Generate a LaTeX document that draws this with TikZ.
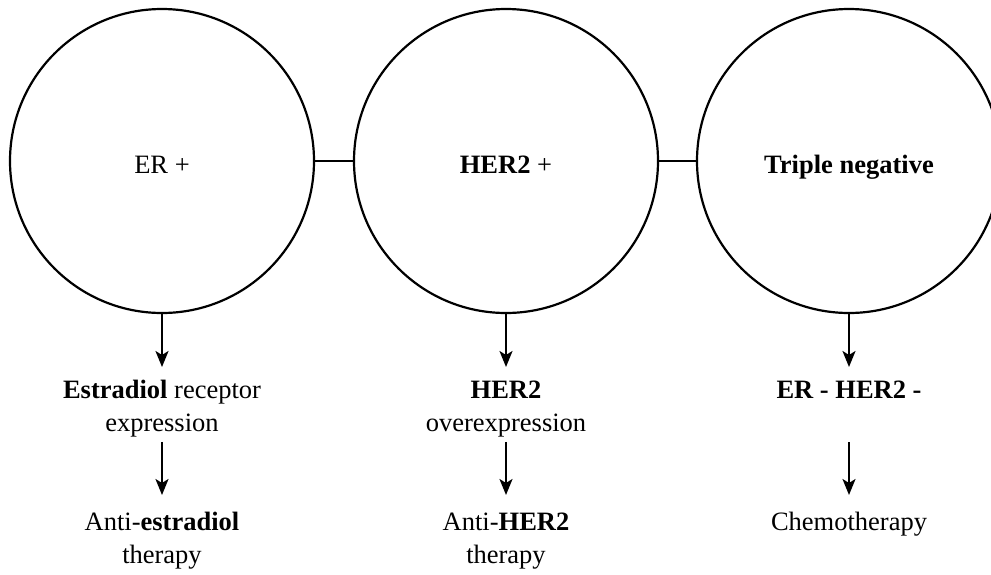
\documentclass[tikz,border=0pt]{standalone}
\usepackage{fontspec}
\setmainfont{Liberation Serif}
\usetikzlibrary{arrows.meta}
\newcommand{\topgap}[1]{\rule{0pt}{#1}}
\newcommand{\botgap}[1]{\rule[-#1]{0pt}{#1}}
\begin{document}
\begin{tikzpicture}[x=1pt,y=-1pt,
  bubble/.style={draw, circle, line width=2.2pt, minimum size=304pt, inner sep=0pt,
    text height=24pt, text depth=0pt, font=\fontsize{26.5}{33.5}\selectfont},
  textblock/.style={anchor=north, inner sep=0pt, align=center,
    font=\fontsize{26.5}{33.5}\selectfont},
  link/.style={line width=2.2pt},
  arr/.style={line width=2.2pt, -{Stealth[length=16pt,width=13pt,inset=4pt]}}]
\useasboundingbox[fill=white] (0,0) rectangle (991,574);

\node[bubble] (c1) at (162,161) {ER +};
\node[bubble] (c2) at (506,161) {\textbf{HER2} +};
\node[bubble] (c3) at (849,161) {\textbf{Triple negative}};

\draw[link] (c1.east) -- (c2.west);
\draw[link] (c2.east) -- (c3.west);

\node[textblock] (t1) at (162,367) {\topgap{31pt}\textbf{Estradiol} receptor\\expression\botgap{10pt}};
\node[textblock] (t2) at (506,367) {\topgap{31pt}\textbf{HER2}\\overexpression\botgap{10pt}};
\node[textblock] (t3) at (849,367) {\topgap{31pt}\textbf{ER - HER2 -}\botgap{44pt}};

\node[textblock] (b1) at (162,495) {\topgap{35pt}Anti-\textbf{estradiol}\\therapy};
\node[textblock] (b2) at (506,495) {\topgap{35pt}Anti-\textbf{HER2}\\therapy};
\node[textblock] (b3) at (849,495) {\topgap{35pt}Chemotherapy};

\draw[arr] (c1.south) -- (t1.north);
\draw[arr] (c2.south) -- (t2.north);
\draw[arr] (c3.south) -- (t3.north);
\draw[arr] (t1.south) -- (b1.north);
\draw[arr] (t2.south) -- (b2.north);
\draw[arr] (t3.south) -- (b3.north);
\end{tikzpicture}
\end{document}
